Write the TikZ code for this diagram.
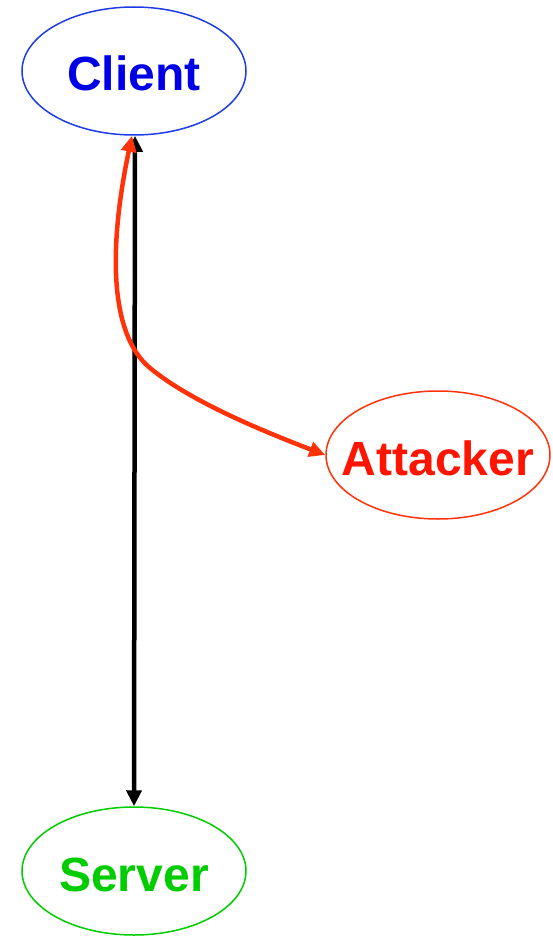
\documentclass[tikz,border=0pt]{standalone}
\usepackage{fontspec}
\setmainfont{Liberation Sans}
\usetikzlibrary{shapes.geometric,arrows.meta}
\definecolor{cblue}{RGB}{0,0,230}
\definecolor{cblueline}{RGB}{30,60,230}
\definecolor{cred}{RGB}{255,20,0}
\definecolor{credline}{RGB}{255,50,10}
\definecolor{cgreen}{RGB}{0,204,0}
\newcommand{\ptext}[1]{\raisebox{-20pt}[0pt][0pt]{\makebox[0pt]{#1}}}
\begin{document}
\begin{tikzpicture}[x=1pt,y=-1pt,
  party/.style={ellipse,minimum width=224pt,minimum height=128pt,inner sep=0pt,line width=1.5pt,
    font=\fontsize{48}{52}\selectfont\bfseries},
  link/.style={line width=4.5pt,{Triangle[length=16pt,width=15pt]}-{Triangle[length=16pt,width=15pt]}}]
\useasboundingbox (0,0) rectangle (553,936);
\node[party,draw=cblueline,text=cblue] (client) at (134,71) {\ptext{Client}};
\node[party,draw=credline,text=cred] (attacker) at (438,455) {\ptext{Attacker}};
\node[party,draw=cgreen,text=cgreen] (server) at (134,871) {\ptext{Server}};
\draw[link,black] ([xshift=1pt]client.south) -- (server.north);
\coordinate (m) at (150,368);
\draw[link,credline] ([xshift=-2pt]client.south) .. controls (108,250) and (110,335) .. (m)
  .. controls (190,401) and (260,430) .. (attacker.west);
\end{tikzpicture}
\end{document}
